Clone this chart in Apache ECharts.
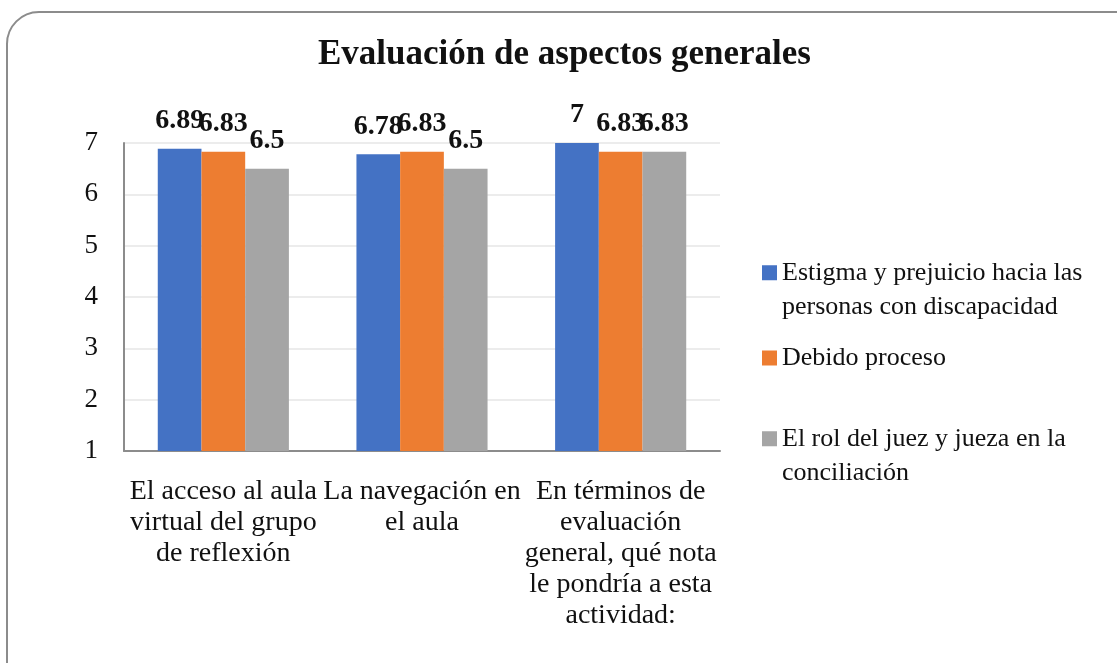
<!DOCTYPE html>
<html>
<head>
<meta charset="utf-8">
<script src="https://cdn.jsdelivr.net/npm/echarts@6/dist/echarts.min.js"></script>
<style>
  html, body { margin: 0; padding: 0; background: #fff; }
  #chart { width: 1117px; height: 663px; }
</style>
</head>
<body>
<div id="chart"></div>
<script>
const titleText = 'Evaluación de aspectos generales'
const categories = [
  'El acceso al aula\nvirtual del grupo\nde reflexión',
  'La navegación en\nel aula',
  'En términos de\nevaluación\ngeneral, qué nota\nle pondría a esta\nactividad:'
]
const seriesNames = [
  'Estigma y prejuicio hacia las\npersonas con discapacidad',
  'Debido proceso',
  'El rol del juez y jueza en la\nconciliación'
]
const estigmaValues = [6.89, 6.78, 7]
const debidoValues = [6.83, 6.83, 6.83]
const rolValues = [6.5, 6.5, 6.83]
const colors = ['#4472C4', '#ED7D31', '#A5A5A5']

const serif = '"Liberation Serif", "DejaVu Serif", serif'

const chart = echarts.init(document.getElementById('chart'))

const makeSeries = (name, data, i) => ({
  name: name,
  type: 'bar',
  data: data,
  barGap: '0%',
  barCategoryGap: '34%',
  itemStyle: { color: colors[i] },
  label: {
    show: true,
    position: 'top',
    distance: 14,
    fontFamily: serif,
    fontWeight: 'bold',
    fontSize: 28,
    color: '#111'
  }
})

// square icon sitting at the top of a taller box, so it lines up with the first text line
const twoLineIcon = 'path://M0,0H10V10H0ZM0,33L0.01,33'
const legendTop = [256, 341, 422]

const options = {
  animation: false,
  backgroundColor: '#fff',
  graphic: [
    {
      type: 'rect',
      shape: { x: 7, y: 12, width: 1150, height: 690, r: 32 },
      style: { fill: 'none', stroke: '#8c8c8c', lineWidth: 2 },
      silent: true
    }
  ],
  title: {
    text: titleText,
    left: 318,
    top: 37,
    padding: 0,
    textStyle: {
      fontFamily: serif,
      fontWeight: 'bold',
      fontSize: 35,
      color: '#111'
    }
  },
  legend: seriesNames.map((name, i) => {
    const multi = name.indexOf('\n') >= 0
    return {
      data: [name],
      orient: 'vertical',
      left: 762,
      top: legendTop[i],
      padding: 0,
      icon: multi ? twoLineIcon : 'rect',
      itemWidth: 15,
      itemHeight: multi ? 49.5 : 15,
      itemGap: 6,
      selectedMode: false,
      textStyle: {
        fontFamily: serif,
        fontSize: 26,
        lineHeight: 34,
        color: '#111'
      }
    }
  }),
  grid: {
    left: 124,
    right: 397,
    top: 143,
    bottom: 212
  },
  xAxis: {
    type: 'category',
    data: categories,
    axisLine: { lineStyle: { color: '#8c8c8c', width: 2 } },
    axisTick: { show: false },
    axisLabel: {
      interval: 0,
      margin: 25,
      fontFamily: serif,
      fontSize: 28,
      lineHeight: 31,
      color: '#111'
    }
  },
  yAxis: {
    type: 'value',
    min: 1,
    max: 7,
    interval: 1,
    axisLine: { show: true, lineStyle: { color: '#8c8c8c', width: 2 } },
    axisTick: { show: false },
    splitLine: { lineStyle: { color: '#ececec', width: 2 } },
    axisLabel: {
      margin: 26,
      fontFamily: serif,
      fontSize: 27,
      color: '#111'
    }
  },
  series: [
    makeSeries(seriesNames[0], estigmaValues, 0),
    makeSeries(seriesNames[1], debidoValues, 1),
    makeSeries(seriesNames[2], rolValues, 2)
  ]
}

chart.setOption(options)
window.addEventListener('resize', () => chart.resize())
</script>
</body>
</html>
